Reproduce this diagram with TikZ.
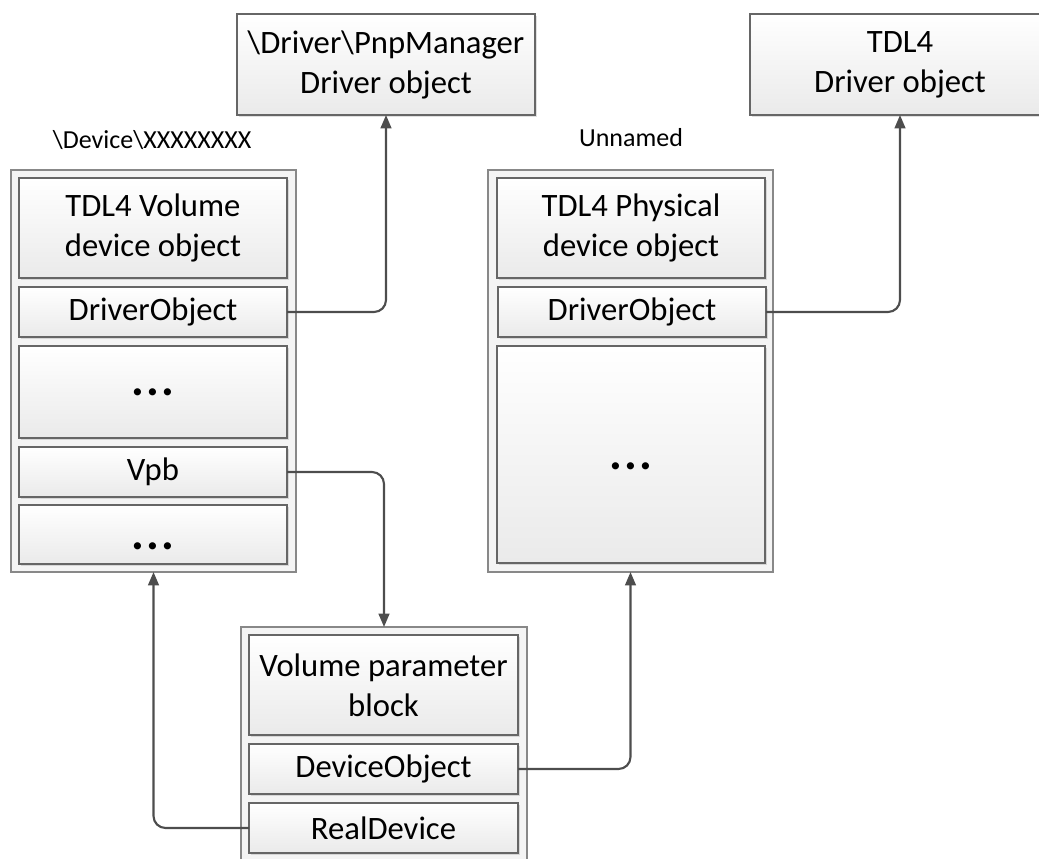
\documentclass[tikz,border=0pt]{standalone}
\usepackage{fontspec}
\setmainfont{Carlito}
\usetikzlibrary{arrows.meta,shadows}
\definecolor{bordr}{HTML}{666666}
\definecolor{outerb}{HTML}{888888}
\definecolor{conncol}{HTML}{4D4D4D}
\definecolor{shadebot}{HTML}{EAEAEA}
\definecolor{outerfill}{HTML}{F4F4F4}
\newcommand\pbox[7]{\node[#1, minimum width={(#5-#3)*0.75pt}, minimum height={(#6-#4)*0.75pt}] (#2) at ({(#3+#5)/2},{(#4+#6)/2}) {#7};}
\newcommand\mydots{\fontsize{36}{40}\selectfont\bfseries .\kern1.5pt.\kern1.5pt.}
\tikzset{
  fld/.style={draw=bordr, line width=1.3pt, top color=white, bottom color=shadebot,
    inner sep=0pt, outer sep=0pt, align=center, font=\fontsize{24.5}{30}\selectfont,
    drop shadow={shadow xshift=1.2pt, shadow yshift=-1.2pt, fill=black, opacity=0.12}},
  outerbox/.style={draw=outerb, line width=1.1pt, fill=outerfill, inner sep=0pt, outer sep=0pt},
  lbl/.style={font=\fontsize{19.5}{24}\selectfont, inner sep=0pt},
  lowdots/.style={text height=22pt, text depth=0pt},
  conn/.style={draw=conncol, line width=1.6pt, rounded corners=9pt,
    -{Triangle[length=10pt,width=8pt]}}
}
\begin{document}
\begin{tikzpicture}[x=0.75pt, y=-0.75pt]
\useasboundingbox (0,0) rectangle (1039,859);
\begin{scope}
\clip (0,0) rectangle (1039,859);
% top driver objects
\pbox{fld}{pnp}{237}{14}{535}{115}{\textbackslash Driver\textbackslash PnpManager\\Driver object}
\pbox{fld}{tdl}{750}{14}{1050}{115}{TDL4\\Driver object}
% labels
\node[lbl] (lblDev) at (152,140) {\textbackslash Device\textbackslash XXXXXXXX};
\node[lbl] (lblUn) at (631,138) {Unnamed};
% outer containers
\pbox{outerbox}{lOuter}{11}{170}{296}{572}{}
\pbox{outerbox}{rOuter}{488}{170}{773}{572}{}
\pbox{outerbox}{vOuter}{241}{627}{527}{885}{}
% left volume device object
\pbox{fld}{lHead}{19}{178}{287}{278}{TDL4 Volume\\device object}
\pbox{fld}{lDrv}{19}{287}{287}{337}{DriverObject}
\pbox{fld}{lDotsA}{19}{346}{287}{438}{\mydots}
\pbox{fld}{lVpb}{19}{447}{287}{497}{Vpb}
\pbox{fld,lowdots}{lDotsB}{19}{505}{287}{564}{\mydots}
% right physical device object
\pbox{fld}{rHead}{497}{178}{765}{278}{TDL4 Physical\\device object}
\pbox{fld}{rDrv}{498}{287}{766}{337}{DriverObject}
\pbox{fld,lowdots}{rDots}{497}{346}{765}{563}{\mydots}
% volume parameter block
\pbox{fld}{vHead}{249}{635}{518}{735}{Volume parameter\\block}
\pbox{fld}{vDev}{249}{744}{518}{794}{DeviceObject}
\pbox{fld}{vReal}{249}{803}{518}{853}{RealDevice}
% connectors
\draw[conn] (lDrv.east) -| (pnp.south);
\draw[conn] (rDrv.east) -| (tdl.south);
\draw[conn] (lVpb.east) -| (vOuter.north);
\draw[conn] (vDev.east) -| (rOuter.south);
\draw[conn] (vReal.west) -| (lOuter.south);
\end{scope}
\end{tikzpicture}
\end{document}
